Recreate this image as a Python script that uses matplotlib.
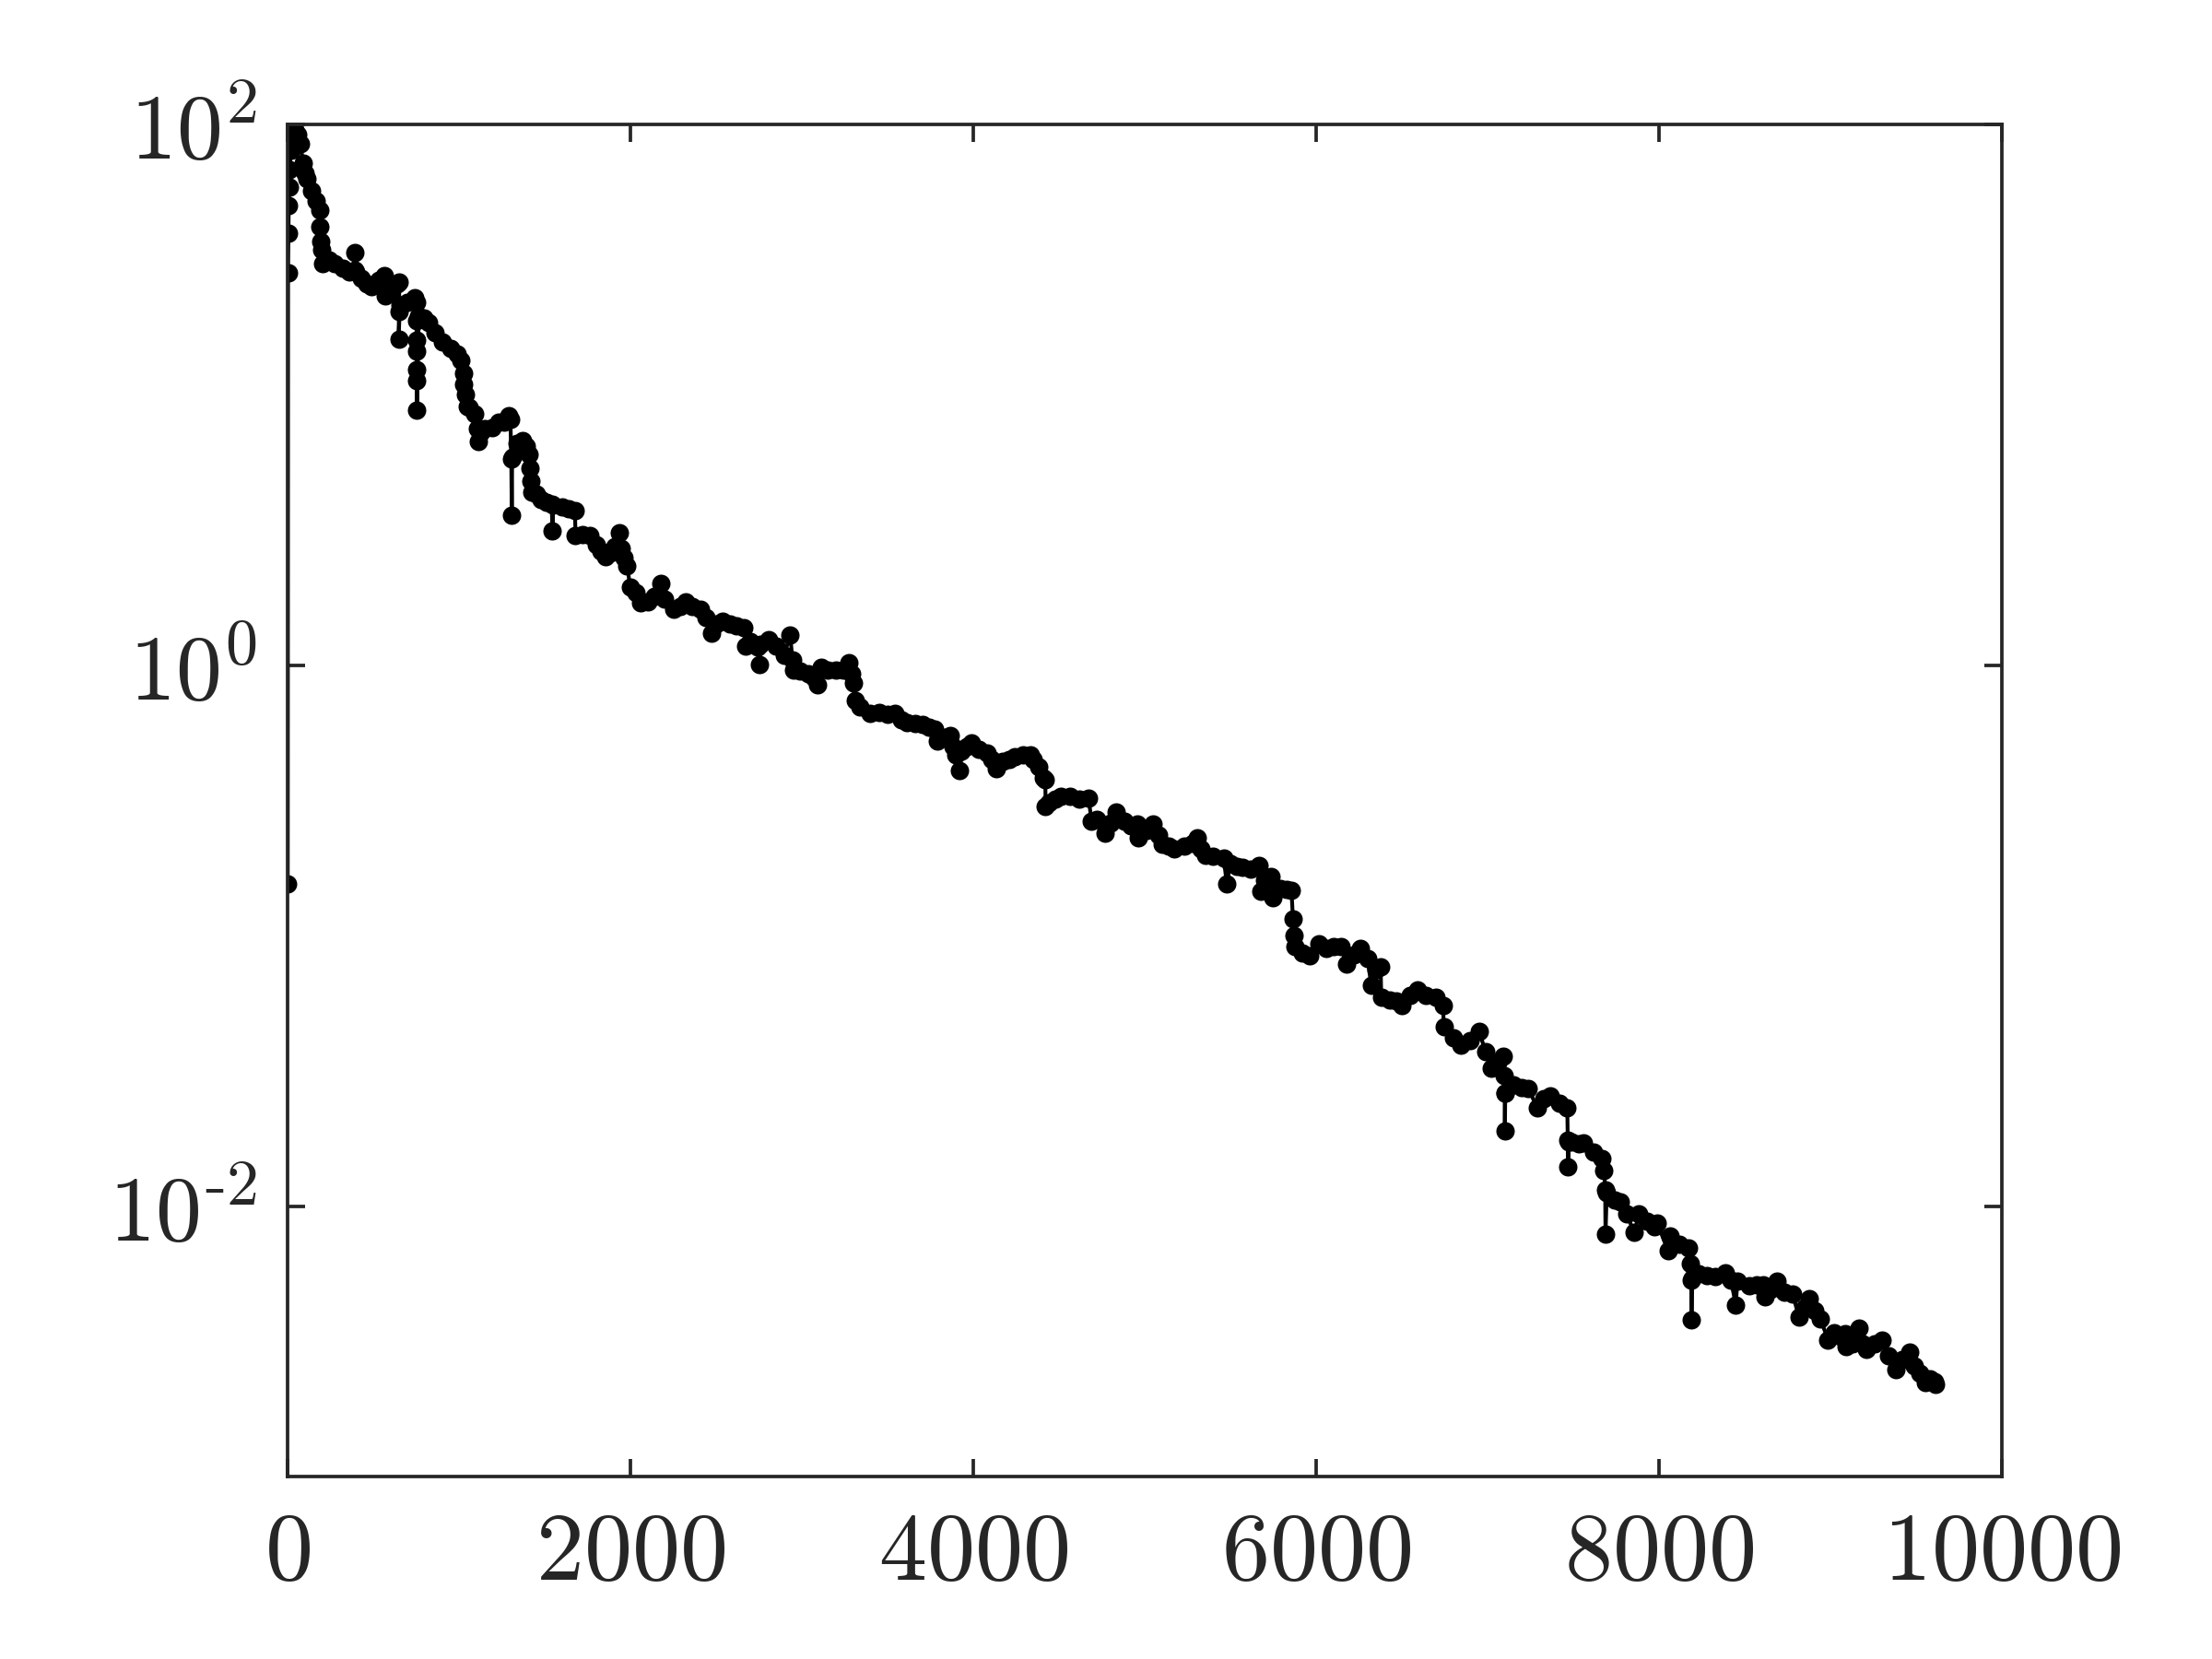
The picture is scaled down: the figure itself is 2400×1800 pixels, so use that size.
import numpy as np
import matplotlib
matplotlib.use('Agg')
import matplotlib.pyplot as plt
from matplotlib.ticker import FixedLocator, FuncFormatter, NullLocator

# iteration number and error value (10 per row)
iters = [
    1, 3, 5, 7, 9, 12, 20, 30, 45, 60,
    75, 90, 100, 115, 140, 165, 187, 190, 195, 200,
    205, 240, 276, 320, 360, 390, 393, 400, 430, 460,
    491, 530, 563, 572, 610, 640, 652, 650, 648, 655,
    700, 740, 752, 752, 753, 753, 754, 754, 755, 765,
    797, 820, 860, 904, 950, 990, 1012, 1025, 1029, 1040,
    1048, 1060, 1090, 1105, 1112, 1125, 1150, 1191, 1230, 1263,
    1290, 1300, 1305, 1308, 1310, 1340, 1370, 1395, 1407, 1416,
    1420, 1425, 1450, 1480, 1510, 1541, 1545, 1550, 1600, 1640,
    1676, 1680, 1720, 1765, 1800, 1830, 1855, 1880, 1910, 1936,
    1945, 1965, 1981, 1999, 2030, 2061, 2100, 2140, 2178, 2200,
    2250, 2290, 2321, 2360, 2411, 2440, 2474, 2500, 2537, 2580,
    2620, 2662, 2671, 2700, 2740, 2752, 2760, 2806, 2850, 2896,
    2932, 2945, 2949, 2990, 3040, 3070, 3093, 3111, 3150, 3201,
    3240, 3272, 3290, 3300, 3310, 3340, 3398, 3450, 3500, 3541,
    3580, 3613, 3660, 3703, 3740, 3774, 3792, 3830, 3864, 3880,
    3900, 3918, 3930, 3960, 3990, 4030, 4080, 4110, 4133, 4170,
    4210, 4241, 4290, 4331, 4349, 4380, 4410, 4420, 4422, 4440,
    4480, 4510, 4564, 4620, 4672, 4690, 4720, 4770, 4800, 4833,
    4880, 4920, 4959, 4962, 5010, 5048, 5080, 5102, 5140, 5174,
    5230, 5280, 5309, 5330, 5354, 5400, 5461, 5479, 5500, 5540,
    5569, 5620, 5667, 5676, 5700, 5739, 5745, 5790, 5830, 5856,
    5865, 5870, 5875, 5920, 5963, 6017, 6060, 6100, 6143, 6179,
    6220, 6259, 6300, 6322, 6350, 6376, 6380, 6430, 6470, 6502,
    6550, 6592, 6640, 6699, 6740, 6745, 6800, 6843, 6900, 6951,
    6987, 7023, 7060, 7094, 7098, 7100, 7101, 7103, 7150, 7200,
    7237, 7291, 7330, 7363, 7420, 7465, 7468, 7470, 7473, 7490,
    7530, 7561, 7620, 7668, 7680, 7686, 7688, 7695, 7740, 7776,
    7811, 7856, 7883, 7930, 7973, 7991, 8053, 8062, 8120, 8170,
    8185, 8188, 8190, 8193, 8230, 8278, 8330, 8385, 8420, 8448,
    8457, 8529, 8570, 8610, 8618, 8650, 8690, 8730, 8780, 8816,
    8850, 8879, 8910, 8941, 8986, 9020, 9060, 9085, 9094, 9130,
    9166, 9190, 9211, 9260, 9300, 9340, 9381, 9420, 9462, 9489,
    9520, 9552, 9580, 9605, 9615,
]
err = [
    0.155, 28.3, 39.7, 50.3, 58.8, 68, 80, 88, 95.5, 92,
    85, 72, 66, 63, 57, 52, 48.3, 42, 37, 34.4,
    30.5, 31.5, 30.6, 29.5, 28.5, 29, 33.6, 28.5, 27.0, 25.8,
    25.1, 26.5, 27.6, 23.2, 24.5, 25.8, 26.1, 20.4, 16.1, 21.5,
    22.0, 22.9, 22.0, 18.8, 16.0, 14.5, 12.4, 11.3, 8.8, 19.6,
    19.3, 18.5, 17.0, 15.7, 14.8, 14.2, 13.4, 12.0, 10.9, 10.0,
    9.07, 9.0, 8.5, 7.5, 6.73, 7.2, 7.5, 7.57, 7.9, 7.95,
    8.38, 8.1, 5.81, 3.6, 5.9, 6.6, 6.8, 6.45, 6.0, 5.37,
    4.8, 4.36, 4.3, 4.1, 4.0, 3.93, 3.14, 3.9, 3.85, 3.8,
    3.73, 3.02, 3.05, 3.02, 2.8, 2.65, 2.52, 2.6, 2.75, 3.1,
    2.7, 2.5, 2.33, 1.94, 1.85, 1.70, 1.72, 1.80, 2.01, 1.75,
    1.61, 1.65, 1.72, 1.65, 1.61, 1.50, 1.31, 1.42, 1.45, 1.42,
    1.40, 1.38, 1.18, 1.22, 1.17, 1.01, 1.20, 1.24, 1.18, 1.09,
    1.29, 1.05, 0.957, 0.95, 0.93, 0.90, 0.85, 0.98, 0.96, 0.957,
    0.96, 1.02, 0.93, 0.86, 0.74, 0.70, 0.664, 0.67, 0.66, 0.664,
    0.63, 0.614, 0.61, 0.605, 0.59, 0.582, 0.525, 0.54, 0.552, 0.50,
    0.466, 0.409, 0.48, 0.50, 0.517, 0.49, 0.472, 0.45, 0.414, 0.44,
    0.45, 0.46, 0.465, 0.466, 0.448, 0.42, 0.383, 0.378, 0.30, 0.31,
    0.32, 0.327, 0.327, 0.32, 0.323, 0.266, 0.27, 0.239, 0.26, 0.287,
    0.265, 0.255, 0.259, 0.23, 0.245, 0.259, 0.235, 0.218, 0.215, 0.21,
    0.215, 0.22, 0.23, 0.21, 0.199, 0.197, 0.194, 0.155, 0.185, 0.18,
    0.179, 0.176, 0.182, 0.146, 0.16, 0.166, 0.138, 0.15, 0.148, 0.147,
    0.115, 0.10, 0.0909, 0.086, 0.084, 0.0933, 0.090, 0.091, 0.0909, 0.0787,
    0.085, 0.0897, 0.082, 0.0655, 0.075, 0.0767, 0.059, 0.058, 0.0575, 0.0553,
    0.060, 0.063, 0.060, 0.059, 0.0553, 0.046, 0.042, 0.0394, 0.041, 0.0443,
    0.0374, 0.0323, 0.034, 0.0359, 0.0303, 0.0262, 0.0189, 0.0262, 0.028, 0.0275,
    0.0273, 0.023, 0.025, 0.0256, 0.024, 0.023, 0.0175, 0.014, 0.0172, 0.0172,
    0.017, 0.0171, 0.0158, 0.015, 0.0135, 0.0115, 0.00788, 0.0112, 0.0105, 0.0104,
    0.00933, 0.00798, 0.00933, 0.0088, 0.0084, 0.00863, 0.00682, 0.00778, 0.0072, 0.0070,
    0.00615, 0.00533, 0.00379, 0.0054, 0.0056, 0.00554, 0.0055, 0.00568, 0.0053, 0.00432,
    0.00526, 0.00506, 0.0051, 0.00513, 0.00462, 0.0049, 0.00526, 0.0048, 0.00473, 0.00389,
    0.0042, 0.00455, 0.0041, 0.00384, 0.0032, 0.0034, 0.0033, 0.00337, 0.00303, 0.0031,
    0.00355, 0.0031, 0.00296, 0.0031, 0.0032, 0.0028, 0.00249, 0.0027, 0.00288, 0.00256,
    0.0024, 0.00222, 0.0023, 0.00225, 0.0022,
]

xticks = [0, 2000, 4000, 6000, 8000, 10000]
yticks = [1e-2, 1e0, 1e2]


def ylab(v, p):
    e = int(round(np.log10(v)))
    if e < 0:
        return r'$10^{\text{-}%d}$' % (-e)
    return r'$10^{%d}$' % e


plt.rcParams['mathtext.fontset'] = 'cm'
axcol = '#262626'

fig = plt.figure(figsize=(8, 6), dpi=300)
ax = fig.add_axes([0.13, 0.11, 0.775, 0.815])

ax.semilogy(iters, err, '-', color='k', lw=1.0,
            marker='o', ms=4.8, mfc='k', mec='k', mew=0)

ax.set_xlim(0, 10000)
ax.set_ylim(1e-3, 1e2)

ax.xaxis.set_major_locator(FixedLocator(xticks))
ax.xaxis.set_major_formatter(FuncFormatter(lambda v, p: r'$%d$' % v))
ax.yaxis.set_major_locator(FixedLocator(yticks))
ax.yaxis.set_major_formatter(FuncFormatter(ylab))
ax.yaxis.set_minor_locator(NullLocator())
ax.xaxis.set_minor_locator(NullLocator())

ax.tick_params(direction='in', length=4.5, width=0.9, top=True, right=True,
               labelsize=25, colors=axcol, pad=8)
ax.tick_params(axis='y', labelsize=24)
for s in ax.spines.values():
    s.set_color(axcol)
    s.set_linewidth(0.9)

fig.savefig('out.png', dpi=300, facecolor='white')
